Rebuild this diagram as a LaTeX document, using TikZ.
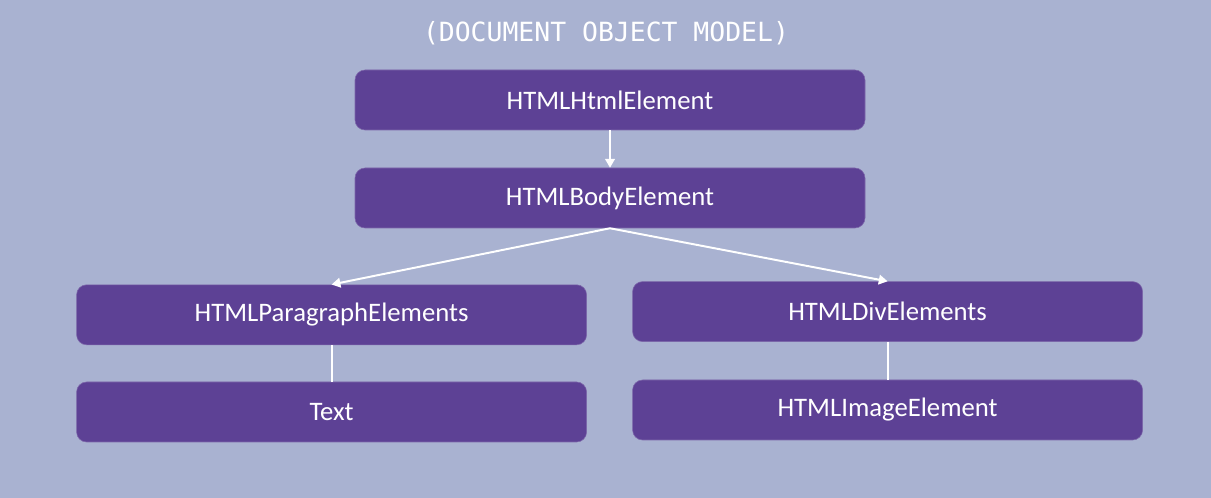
\documentclass[tikz,border=0pt]{standalone}
\usepackage{fontspec}
\setmainfont{Carlito}
\newfontfamily\titlefont{DejaVu Sans Mono}
\usetikzlibrary{arrows.meta}
\definecolor{bgblue}{HTML}{A9B2D1}
\definecolor{boxpurple}{HTML}{5D4195}
\tikzset{
	elem/.style={fill=boxpurple, draw=boxpurple!80!white, rounded corners=0.25cm, minimum width=12.75cm, minimum height=1.5cm, text=white, font=\fontsize{19}{22}\selectfont},
	link/.style={draw=white, line width=1.4pt},
	arr/.style={link, -{Triangle[length=2.2mm, width=2.4mm]}}
}

\begin{document}
\begin{tikzpicture}
		%%%%% START %%%%%
		\fill[bgblue] (0, 0) rectangle (30.275, 12.45);
		\useasboundingbox (0, 0) rectangle (30.275, 12.45);
		
		\node[text=white, font=\titlefont\fontsize{18.8}{22}\selectfont] (title) at (15.15, 11.62) {(DOCUMENT OBJECT MODEL)};
		
		\node[elem] (html) at (15.25, 9.95) {HTMLHtmlElement};
		\node[elem] (body) at (15.25, 7.5) {HTMLBodyElement};
		
		\node[elem] (para) at (8.29, 4.58) {HTMLParagraphElements};
		\node[elem] (div) at (22.19, 4.66) {HTMLDivElements};
		
		\node[elem] (text) at (8.29, 2.15) {Text};
		\node[elem] (img) at (22.19, 2.2) {HTMLImageElement};
		
		\draw[arr] (html) -- (body);
		\draw[arr] (body.south) -- (para.north);
		\draw[arr] (body.south) -- (div.north);
		\draw[link] (para) -- (text);
		\draw[link] (div) -- (img);
		%%%%% END %%%%%
	\end{tikzpicture}
\end{document}
